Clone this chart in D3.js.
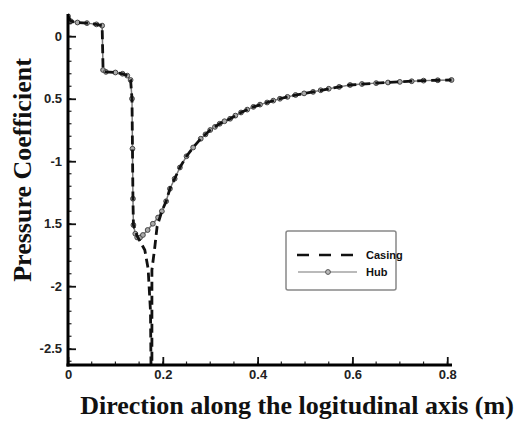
<!DOCTYPE html>
<html>
<head>
<meta charset="utf-8">
<script src="https://cdn.jsdelivr.net/npm/d3@7"></script>
<style>
  body { margin: 0; background: #fff; }
  svg { display: block; }
</style>
</head>
<body>
<div id="chart"></div>
<script>
// values
var hubX = [0, 0.006, 0.02, 0.04, 0.06, 0.072, 0.074, 0.08, 0.10, 0.115, 0.125, 0.132, 0.135, 0.136, 0.137, 0.138,
            0.142, 0.146, 0.152, 0.158, 0.168, 0.179, 0.19, 0.198, 0.207, 0.215, 0.225, 0.236, 0.25, 0.264,
            0.28, 0.29, 0.30, 0.31, 0.32, 0.33, 0.342, 0.353, 0.365, 0.378, 0.391, 0.405, 0.42, 0.433, 0.447, 0.463, 0.48, 0.498, 0.517, 0.533,
            0.55, 0.572, 0.595, 0.62, 0.65, 0.675, 0.70, 0.725, 0.75, 0.78, 0.809];
var hubY = [0.16, 0.12, 0.11, 0.105, 0.095, 0.085, -0.27, -0.285, -0.29, -0.3, -0.315, -0.35, -0.5, -0.9, -1.3, -1.51,
            -1.58, -1.61, -1.61, -1.59, -1.55, -1.5, -1.45, -1.4, -1.32, -1.22, -1.14, -1.05, -0.96, -0.89,
            -0.82, -0.785, -0.75, -0.725, -0.70, -0.68, -0.66, -0.635, -0.61, -0.587, -0.565, -0.547, -0.53, -0.515, -0.50, -0.485, -0.47, -0.457, -0.445, -0.432,
            -0.42, -0.405, -0.39, -0.382, -0.375, -0.37, -0.365, -0.36, -0.355, -0.352, -0.35];

var casingX = [0, 0.006, 0.02, 0.04, 0.06, 0.072, 0.074, 0.08, 0.10, 0.115, 0.125, 0.132, 0.135, 0.136, 0.137, 0.138,
               0.146, 0.162, 0.169, 0.174, 0.1755, 0.177, 0.177, 0.183, 0.188, 0.198, 0.207, 0.215, 0.225, 0.236, 0.25, 0.264,
               0.28, 0.30, 0.32, 0.342, 0.365, 0.391, 0.42, 0.447, 0.48, 0.517, 0.55, 0.595, 0.65, 0.70, 0.75, 0.809];
var casingY = [0.16, 0.12, 0.11, 0.105, 0.095, 0.085, -0.27, -0.285, -0.29, -0.3, -0.315, -0.35, -0.5, -0.9, -1.3, -1.51,
               -1.6, -1.71, -1.86, -2.2, -2.8, -2.8, -1.87, -1.69, -1.52, -1.4, -1.32, -1.22, -1.14, -1.05, -0.96, -0.89,
               -0.82, -0.75, -0.70, -0.66, -0.61, -0.565, -0.53, -0.50, -0.47, -0.445, -0.42, -0.39, -0.375, -0.365, -0.355, -0.35];

var xTicks = [0, 0.2, 0.4, 0.6, 0.8];
var xTickLabels = ["0", "0.2", "0.4", "0.6", "0.8"];
var yTicks = [0, -0.5, -1, -1.5, -2, -2.5];
var yTickLabels = ["0", "0.5", "-1", "1.5", "-2", "-2.5"];
var seriesNames = ["Casing", "Hub"];

var W = 517, H = 423;
var svg = d3.select("#chart").append("svg").attr("width", W).attr("height", H);

var x = d3.scaleLinear().domain([0, 0.81]).range([68, 452]);
var y = d3.scaleLinear().domain([-2.63, 0.17]).range([365, 15]);

svg.append("clipPath").attr("id", "plotclip")
  .append("rect").attr("x", 68).attr("y", 10).attr("width", 390).attr("height", 355);

var g = svg.append("g").attr("clip-path", "url(#plotclip)");

var line = d3.line().x(function(d){ return x(d[0]); }).y(function(d){ return y(d[1]); });

var hub = hubX.map(function(v, i){ return [v, hubY[i]]; });
var casing = casingX.map(function(v, i){ return [v, casingY[i]]; });

// hub: thin gray line with small circles
g.append("path").datum(hub).attr("d", line)
  .attr("fill", "none").attr("stroke", "#777").attr("stroke-width", 1.5);
g.selectAll("circle.hub").data(hub).enter().append("circle")
  .attr("class", "hub")
  .attr("cx", function(d){ return x(d[0]); })
  .attr("cy", function(d){ return y(d[1]); })
  .attr("r", 2.4)
  .attr("fill", "#aaa").attr("stroke", "#444").attr("stroke-width", 1);

// casing: black dashes
g.append("path").datum(casing).attr("d", line)
  .attr("fill", "none").attr("stroke", "#111").attr("stroke-width", 2.8)
  .attr("stroke-dasharray", "9,5");

// axes (ticks point inward)
var xMinor = d3.range(0, 0.81, 0.05);
var yMinor = d3.range(-2.6, 0.15, 0.1);

var xAxis = svg.append("g").attr("transform", "translate(0,365)");
xAxis.selectAll("line.minor").data(xMinor).enter().append("line")
  .attr("x1", function(d){ return x(d); }).attr("x2", function(d){ return x(d); })
  .attr("y1", 0).attr("y2", -3.5).attr("stroke", "#222").attr("stroke-width", 1.2);
xAxis.call(d3.axisBottom(x).tickValues(xTicks).tickSize(-8)
  .tickFormat(function(d, i){ return xTickLabels[i]; }));
xAxis.select(".domain").remove();
xAxis.selectAll(".tick line").attr("stroke", "#111").attr("stroke-width", 1.8);
xAxis.selectAll(".tick text").attr("y", 5).attr("dy", "0.71em");
xAxis.append("line").attr("x1", 66.5).attr("x2", 452).attr("y1", 0).attr("y2", 0)
  .attr("stroke", "#000").attr("stroke-width", 3);

var yAxis = svg.append("g").attr("transform", "translate(68,0)");
yAxis.selectAll("line.minor").data(yMinor).enter().append("line")
  .attr("y1", function(d){ return y(d); }).attr("y2", function(d){ return y(d); })
  .attr("x1", 0).attr("x2", 3.5).attr("stroke", "#222").attr("stroke-width", 1.2);
yAxis.call(d3.axisLeft(y).tickValues(yTicks).tickSize(-8)
  .tickFormat(function(d, i){ return yTickLabels[i]; }));
yAxis.select(".domain").remove();
yAxis.selectAll(".tick line").attr("stroke", "#111").attr("stroke-width", 1.8);
yAxis.selectAll(".tick text").attr("x", -6);
yAxis.append("line").attr("x1", 0).attr("x2", 0).attr("y1", 14).attr("y2", 366.5)
  .attr("stroke", "#000").attr("stroke-width", 3);

svg.selectAll(".tick text")
  .attr("font-family", "Arial, 'Liberation Sans', sans-serif")
  .attr("font-weight", "bold").attr("font-size", 13).attr("fill", "#222");

// axis titles
svg.append("text")
  .attr("transform", "translate(31,170) rotate(-90)")
  .attr("text-anchor", "middle")
  .attr("font-family", "'Times New Roman', 'Liberation Serif', serif")
  .attr("font-weight", "bold").attr("font-size", 26).attr("fill", "#111")
  .text("Pressure Coefficient");

svg.append("text")
  .attr("x", 297).attr("y", 414)
  .attr("text-anchor", "middle")
  .attr("font-family", "'Times New Roman', 'Liberation Serif', serif")
  .attr("font-weight", "bold").attr("font-size", 26).attr("fill", "#111")
  .text("Direction along the logitudinal axis  (m)");

// legend
var lg = svg.append("g").attr("transform", "translate(286,231)");
lg.append("rect").attr("width", 110).attr("height", 59).attr("rx", 2)
  .attr("fill", "#fff").attr("stroke", "#888").attr("stroke-width", 1.5);
lg.append("line").attr("x1", 11).attr("x2", 71).attr("y1", 24).attr("y2", 24)
  .attr("stroke", "#111").attr("stroke-width", 2.6).attr("stroke-dasharray", "12,10");
lg.append("line").attr("x1", 12).attr("x2", 71).attr("y1", 41).attr("y2", 41)
  .attr("stroke", "#777").attr("stroke-width", 1.2);
lg.append("circle").attr("cx", 42).attr("cy", 41).attr("r", 2.4)
  .attr("fill", "#bbb").attr("stroke", "#555").attr("stroke-width", 1);
lg.selectAll("text.lab").data(seriesNames).enter().append("text")
  .attr("x", 80).attr("y", function(d, i){ return 28 + i * 17; })
  .attr("font-family", "Arial, 'Liberation Sans', sans-serif")
  .attr("font-weight", "bold").attr("font-size", 11).attr("fill", "#111")
  .text(function(d){ return d; });
</script>
</body>
</html>
